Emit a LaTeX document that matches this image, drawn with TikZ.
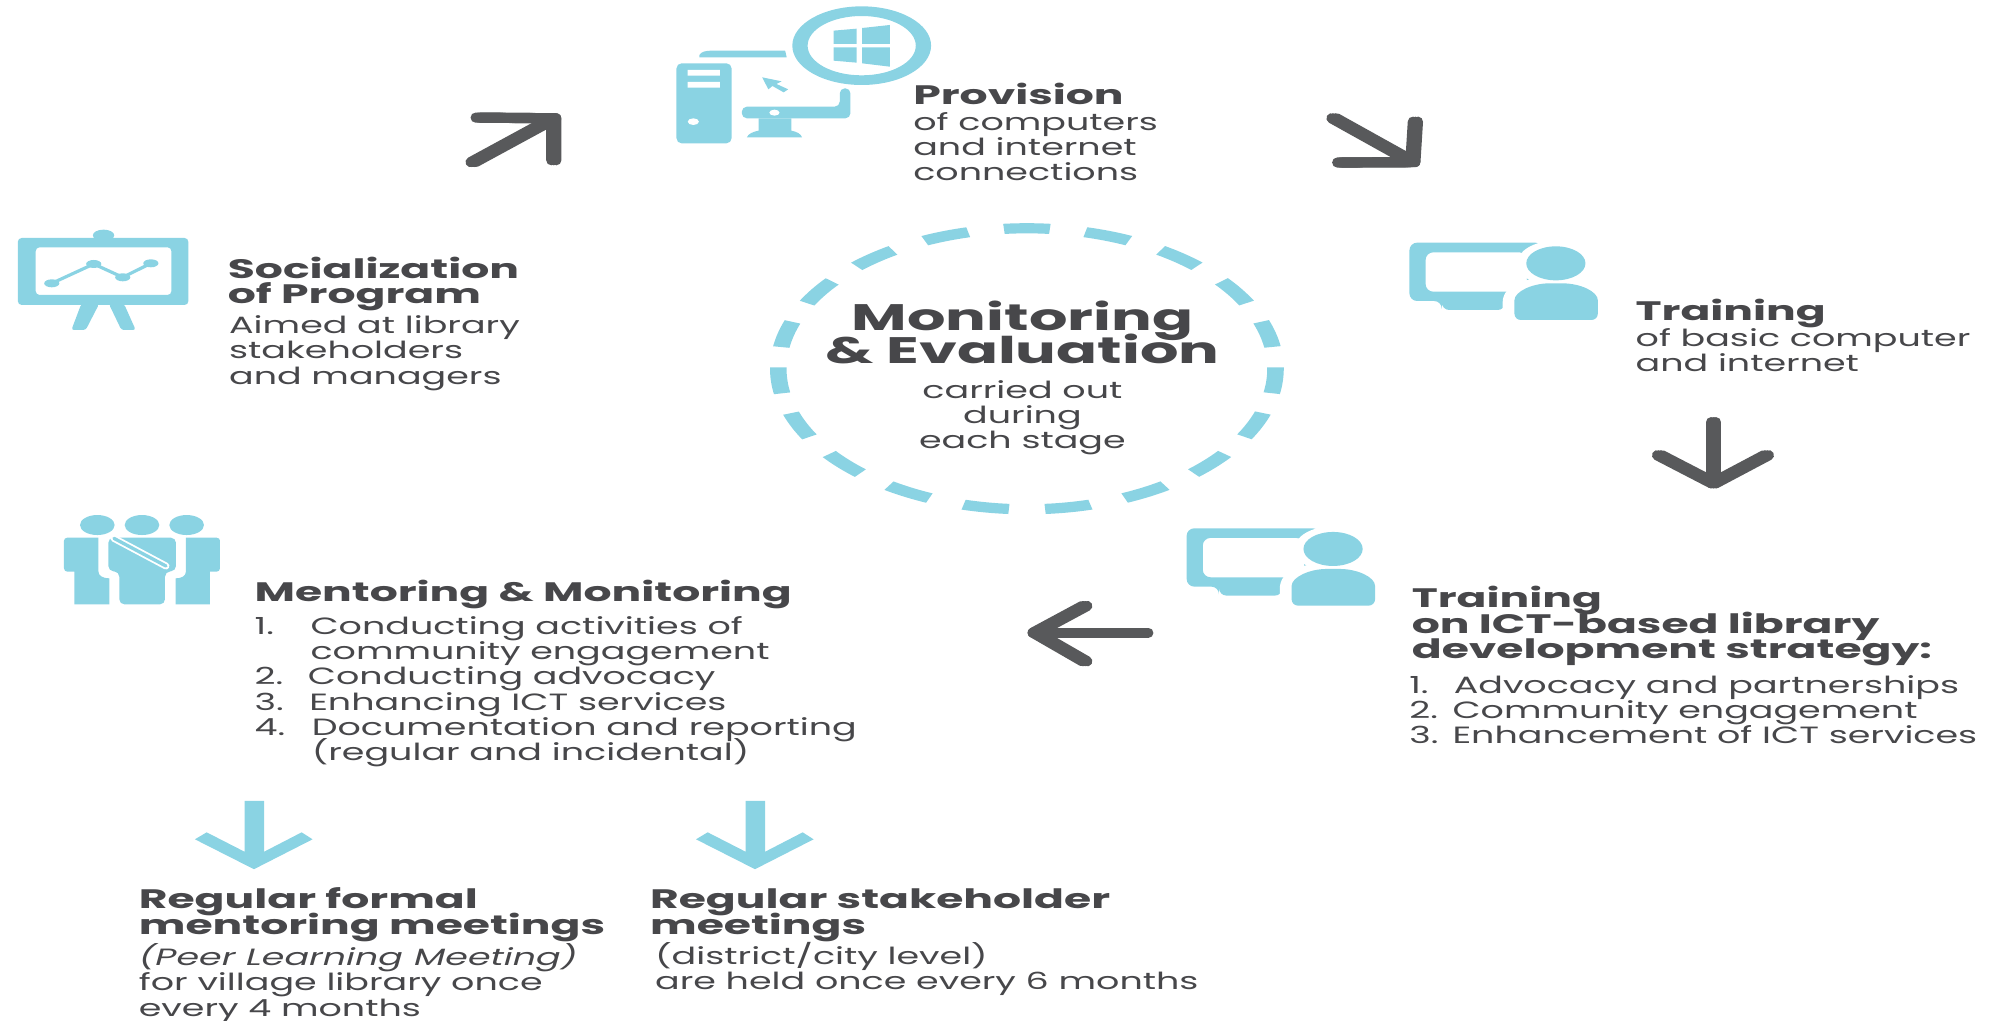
\documentclass[tikz,border=0pt]{standalone}
\usepackage{fontspec}
\newfontfamily\bodyf[FakeStretch=1.55]{Poppins}
\newfontfamily\headf[FakeStretch=1.65]{Poppins}
\newfontfamily\bigf[FakeStretch=1.64]{Poppins}
\definecolor{cy}{HTML}{8AD3E3}
\definecolor{dk}{HTML}{58595B}
\definecolor{tx}{HTML}{47474A}
\newcommand{\bodyfont}{\bodyf\fontsize{18.5}{19.8}\selectfont\lineskiplimit=-100pt\relax}
\newcommand{\headfont}{\headf\bfseries\fontsize{21}{20}\selectfont\lineskiplimit=-100pt\relax}
\newcommand{\bigfont}{\bigf\bfseries\fontsize{29}{26.5}\selectfont\lineskiplimit=-100pt\relax}
\newcommand{\numli}[3]{\makebox[#1][l]{#2}#3}
\newcommand{\trainingicon}{%
  \fill[cy,rounded corners=6pt,even odd rule] (482,68) -- (730,68) -- (730,243) -- (660,243) -- (660,270) -- (542,270) -- (542,243) -- (482,243) -- cycle
    (512,97) -- (512,215) -- (700,215) -- (700,97) -- cycle;
  \fill[white] (754,130) ellipse [x radius=72,y radius=68];
  \fill[white] (655,320) -- (655,250) .. controls (655,190) and (700,172) .. (754,172) .. controls (810,172) and (850,200) .. (850,320) -- cycle;
  \fill[cy] (754,130) ellipse [x radius=55,y radius=51];
  \fill[cy,rounded corners=5pt] (677,300) -- (677,260) .. controls (677,215) and (710,190) .. (754,190) .. controls (800,190) and (832,215) .. (832,260) -- (832,300) -- cycle;
}
% dark arrow: stem and barbs, stroked three times to widen the pen sideways
\newcommand{\darkarrowdraw}[4]{%
  \foreach \dx in {-2pt,0pt,2pt}{
    \draw[darkarrow] ([xshift=\dx]#1) -- ([xshift=\dx]#2);
    \draw[darkarrow] ([xshift=\dx]#3) -- ([xshift=\dx]#2) -- ([xshift=\dx]#4);
  }%
}
\newcommand{\cyanarrowdraw}[1]{%
  \fill[cy,shift={(#1)}] (-7.6,0) -- (7.6,0) -- (7.6,40) -- (37.2,24.7) -- (45.8,30.2) -- (-.3,53.7) -- (-46.7,30.2) -- (-37.5,24.7) -- (-7.6,40) -- cycle;%
}
\tikzset{
  x=1pt,y=-1pt,
  lb/.style={anchor=base west,align=left,inner sep=0,text=tx},
  bodytxt/.style={lb,font=\bodyfont},
  headtxt/.style={lb,font=\headfont},
  darkarrow/.style={draw=dk,line width=8pt,line cap=round,line join=round},
}
\begin{document}
\begin{tikzpicture}
\useasboundingbox (0,0) rectangle (1568,802.1);
% easel
\begin{scope}[x=.351pt,y=-.2621pt]
  \fill[cy,rounded corners=3pt,even odd rule] (40,714) rectangle (422,915) (80,742) rectangle (384,885);
  \fill[cy] (232,706) ellipse [x radius=24,y radius=17];
  \fill[cy,rounded corners=2pt] (182,912) -- (222,912) -- (192,990) -- (160,990) -- cycle;
  \fill[cy,rounded corners=2pt] (244,912) -- (278,912) -- (304,990) -- (272,990) -- cycle;
  \draw[cy,line width=2.5pt] (116,850) -- (210,792) -- (275,832) -- (338,790);
  \foreach \p in {(116,850),(210,792),(275,832),(338,790)} \fill[cy] \p ellipse [x radius=17,y radius=12];
\end{scope}
% computer
\begin{scope}[shift={(511.1,0)},x=.4012pt,y=-.2621pt]
  \fill[cy,rounded corners=4pt] (52,190) rectangle (160,430);
  \fill[white] (74,210) rectangle (137,227) (74,246) rectangle (137,263);
  \fill[white] (85,365) ellipse [x radius=11,y radius=10];
  \fill[cy] (97,172) -- (97,165) .. controls (100,155) and (110,152) .. (120,152) -- (265,152) -- (268,172) -- cycle;
  \fill[cy,even odd rule] (415,137) ellipse [x radius=136,y radius=118] (415,137) ellipse [x radius=106,y radius=89];
  \fill[cy] (360,92) -- (405,86) -- (405,132) -- (360,132) -- cycle;
  \fill[cy] (416,84) -- (470,75) -- (470,132) -- (416,132) -- cycle;
  \fill[cy] (360,142) -- (405,142) -- (405,188) -- (360,182) -- cycle;
  \fill[cy] (416,142) -- (470,142) -- (470,200) -- (416,190) -- cycle;
  \fill[cy,rounded corners=4pt] (372,265) -- (393,265) -- (393,355) -- (180,355) -- (180,320) -- (372,320) -- cycle;
  \fill[white] (244,338) ellipse [x radius=10,y radius=9];
  \fill[cy] (213,355) -- (277,355) -- (277,392) .. controls (288,395) and (296,402) .. (298,412) -- (190,412) .. controls (192,402) and (202,395) .. (213,392) -- cycle;
  \fill[cy] (220,232) -- (258,244) -- (248,252) -- (271,268) -- (262,277) -- (240,258) -- (232,268) -- cycle;
\end{scope}
% training icons
\begin{scope}[shift={(904.3,173)},x=.4233pt,y=-.2621pt]\trainingicon\end{scope}
\begin{scope}[shift={(729.1,397.6)},x=.4233pt,y=-.2621pt]\trainingicon\end{scope}
% people
\begin{scope}[shift={(31.45,393.2)},x=.2621pt,y=-.2621pt]
  \foreach \c in {172,306,440} \fill[cy] (\c,75) ellipse [x radius=52,y radius=30];
  \fill[cy] (82,113) -- (175,113) -- (175,213) .. controls (175,228) and (190,235) .. (208,235) -- (208,313) -- (103,313) -- (103,215) -- (82,215) .. controls (76,215) and (72,210) .. (72,205) -- (72,122) .. controls (72,117) and (76,113) .. (82,113) -- cycle;
  \fill[cy] (530,113) -- (438,113) -- (438,213) .. controls (438,228) and (425,235) .. (407,235) -- (407,313) -- (510,313) -- (510,215) -- (530,215) .. controls (536,215) and (540,210) .. (540,205) -- (540,122) .. controls (540,117) and (536,113) .. (530,113) -- cycle;
  \fill[cy,rounded corners=4pt] (205,113) -- (408,113) -- (408,213) -- (375,215) -- (375,313) -- (238,313) -- (238,215) -- (205,213) -- cycle;
  \draw[white,line width=5.5pt,line cap=round] (222,115) -- (378,198);
  \draw[cy,line width=2.6pt,line cap=round] (222,115) -- (378,198);
\end{scope}
% dashed ellipse
\foreach \t in {0,...,18}{
  \pgfmathsetmacro{\a}{90+\t*18.95-5.3}
  \pgfmathsetmacro{\b}{\a+10.6}
  \fill[cy] ({807.5+202*cos(\a)},{290-114.5*sin(\a)}) arc [start angle=\a,end angle=\b,x radius=202,y radius=-114.5]
    -- ({807.5+189*cos(\b)},{290-106.5*sin(\b)}) arc [start angle=\b,end angle=\a,x radius=189,y radius=-106.5] -- cycle;
}
% arrows
\coordinate (a1s) at (372,127.5); \coordinate (a1t) at (435.5,93); \coordinate (a1b) at (376,92.5); \coordinate (a1c) at (435.5,126);
\darkarrowdraw{a1s}{a1t}{a1b}{a1c}
\coordinate (a2s) at (1049,93); \coordinate (a2t) at (1111,127.5); \coordinate (a2b) at (1053.5,127.8); \coordinate (a2c) at (1113,95.7);
\darkarrowdraw{a2s}{a2t}{a2b}{a2c}
\coordinate (a3s) at (1347.5,332); \coordinate (a3t) at (1347.5,380); \coordinate (a3b) at (1305,358); \coordinate (a3c) at (1389,358);
\darkarrowdraw{a3s}{a3t}{a3b}{a3c}
\coordinate (a4s) at (901,497.5); \coordinate (a4t) at (814,497.5); \coordinate (a4b) at (853,476.5); \coordinate (a4c) at (853,520);
\darkarrowdraw{a4s}{a4t}{a4b}{a4c}
\coordinate (a5s) at (200,629.8); \cyanarrowdraw{a5s}
\coordinate (a6s) at (594,629.8); \cyanarrowdraw{a6s}
% text
\node[headtxt] (sochead) at (179,239) {Socialization\\of Program};
\node[bodytxt] (socbody) at (180,302) {Aimed at library\\stakeholders\\and managers};
\node[headtxt] (prohead) at (718,82) {Provision};
\node[bodytxt] (probody) at (718,142) {of computers\\and internet\\connections};
\node[headtxt] (trahead) at (1286,252) {Training};
\node[bodytxt] (trabody) at (1286,292) {of basic computer\\and internet};
\node[headtxt] (ictshead) at (1110,518) {Training\\on ICT-based library\\development strategy:};
\node[bodytxt] (ictbody) at (1108,585) {\numli{35pt}{1.}{Advocacy and partnerships}\\\numli{34pt}{2.}{Community engagement}\\\numli{34pt}{3.}{Enhancement of ICT services}};
\node[headtxt] (menhead) at (200,473) {Mentoring \& Monitoring};
\node[bodytxt] (menbody) at (200,598) {\numli{44pt}{1.}{Conducting activities of}\\\numli{44pt}{}{community engagement}\\\numli{42pt}{2.}{Conducting advocacy}\\\numli{43pt}{3.}{Enhancing ICT services}\\\numli{45pt}{4.}{Documentation and reporting}\\\numli{45pt}{}{(regular and incidental)}};
\node[headtxt] (reghead) at (109,734.5) {Regular formal\\mentoring meetings};
\node[bodytxt] (regbody) at (109,799) {\textit{(Peer Learning Meeting)}\\for village library once\\every 4 months};
\node[headtxt] (stahead) at (511,734.5) {Regular stakeholder\\meetings};
\node[bodytxt] (stabody) at (515,778) {(district/city level)\\are held once every 6 months};
\node[lb,align=center,anchor=base,font=\bigfont] (monhead) at (804,286) {Monitoring\\\& Evaluation};
\node[lb,align=center,anchor=base,font=\bodyfont] (monbody) at (804,353) {carried out\\during\\each stage};
\end{tikzpicture}
\end{document}
